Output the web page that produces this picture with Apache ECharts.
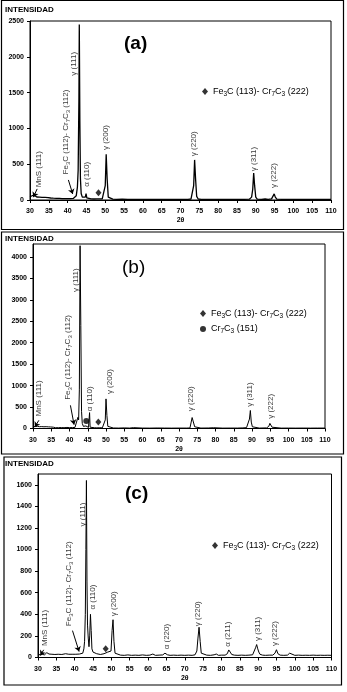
<!DOCTYPE html>
<html>
<head>
<meta charset="utf-8">
<script src="https://cdn.jsdelivr.net/npm/echarts@6/dist/echarts.min.js"></script>
<style>
html, body { margin: 0; padding: 0; background: #fff; }
#chart { width: 347px; height: 692px; }
</style>
</head>
<body>
<div id="chart"></div>
<script>
// XRD patterns (2θ, intensity)
var FE3C = 'Fe3C (113)- Cr7C3 (222)';
var CR7C3 = 'Cr7C3 (151)';

var dataA = [[30.0,45],[30.5,42],[31.0,70],[31.3,48],[31.8,42],[32.5,40],[33.2,38],[34.0,36],[34.8,34],[35.5,28],[36.2,25],[37.0,24],[37.8,22],[38.5,20],[39.3,20],[40.0,18],[40.8,20],[41.5,22],[42.0,30],[42.3,60],[42.6,180],[42.8,420],[43.0,1400],[43.1,2450],[43.25,1100],[43.4,300],[43.6,90],[43.9,40],[44.3,25],[44.7,40],[44.9,90],[45.1,30],[45.5,18],[46.2,15],[47.0,14],[47.8,15],[48.5,16],[49.2,15],[49.7,30],[50.0,200],[50.25,640],[50.5,300],[50.8,40],[51.2,15],[52,12],[53,10],[54.5,12],[56,10],[58,10],[60,9],[62,10],[64,9],[66,10],[68,9],[70,10],[72,10],[72.8,14],[73.2,40],[73.5,200],[73.75,560],[74.0,300],[74.3,50],[74.7,14],[75.5,10],[77,9],[79,10],[81,9],[83,10],[85,9],[87,10],[88.3,12],[88.9,40],[89.2,150],[89.45,375],[89.7,200],[90.0,40],[90.4,12],[91.5,10],[92.5,14],[93.3,10],[94.2,15],[94.6,40],[94.9,85],[95.2,40],[95.6,12],[97,9],[99,10],[101,9],[103,10],[105,9],[107,10],[109,9],[110,10]];
var labelsA = [[32.5,170,'MnS (111)'],[39.75,350,'Fe3C (112)- Cr7C3 (112)'],[41.8,1730,'γ (111)'],[45.2,177,'α (110)'],[50.3,690,'γ (200)'],[73.7,605,'γ (220)'],[89.5,395,'γ (311)'],[95.0,160,'γ (222)']];
var arrowsA = [[[31.9,155],[30.9,40]],[[40.2,280],[41.35,84]]];
var fe3cA = [[48.2,102]];

var dataB = [[30.0,40],[30.3,25],[30.6,45],[30.9,30],[31.2,50],[31.5,28],[31.8,42],[32.1,26],[32.4,44],[32.7,30],[33.0,40],[33.3,25],[33.6,42],[33.9,28],[34.2,38],[34.5,25],[34.8,36],[35.2,24],[35.6,30],[36.2,18],[37,20],[37.8,22],[38.5,18],[39.3,25],[40,20],[40.8,22],[41.5,25],[42.0,40],[42.3,260],[42.5,200],[42.7,900],[42.9,4260],[43.1,2400],[43.3,400],[43.5,120],[43.8,50],[44.2,40],[44.5,60],[44.8,40],[45.2,25],[45.5,370],[45.65,30],[46,20],[46.8,18],[47.5,15],[48.3,18],[49.0,15],[49.5,30],[49.8,200],[50.0,690],[50.25,300],[50.5,50],[51,15],[52,12],[53.5,10],[55,14],[56.5,10],[57.5,20],[58,10],[60,10],[62,9],[64,12],[66,10],[68,9],[70,10],[72,10],[73.0,12],[73.4,40],[73.6,255],[74.1,260],[74.3,40],[74.8,12],[76,10],[78,12],[79.5,18],[80,10],[82,9],[84,10],[86,10],[87.5,14],[88.5,20],[89.0,60],[89.3,220],[89.55,420],[89.8,150],[90.1,40],[90.5,12],[92,10],[94.0,14],[94.6,50],[94.9,120],[95.2,110],[95.5,30],[96,10],[98,9],[100,10],[102,9],[104,10],[106,9],[108,10],[110,10]];
var labelsB = [[31.65,268,'MnS (111)'],[39.6,657,'Fe3C (112)- Cr7C3 (112)'],[41.8,3170,'γ (111)'],[45.7,390,'α (110)'],[51.2,790,'γ (200)'],[73.45,390,'γ (220)'],[89.4,495,'γ (311)'],[95.2,215,'γ (222)']];
var arrowsB = [[[31.6,190],[30.5,35]],[[40.25,540],[41.25,90]]];
var fe3cB = [[47.9,152]];
var cr7c3B = [[44.6,175]];

var dataC = [[30.0,30],[30.3,45],[30.6,25],[30.9,35],[31.2,28],[31.5,40],[31.8,25],[32.1,30],[32.4,45],[32.7,28],[33.0,32],[33.4,25],[33.8,30],[34.2,22],[34.6,28],[35.0,24],[35.5,30],[36.0,25],[36.5,28],[37.0,24],[37.5,35],[38.0,48],[38.4,30],[38.8,26],[39.3,30],[39.8,24],[40.3,30],[40.8,26],[41.3,32],[41.8,30],[42.2,40],[42.5,80],[42.7,150],[42.9,400],[43.05,1000],[43.2,1640],[43.35,700],[43.5,300],[43.7,180],[43.9,100],[44.1,200],[44.3,400],[44.5,250],[44.7,80],[45.0,50],[45.5,40],[46.0,35],[46.5,30],[47.0,28],[47.5,30],[48.0,35],[48.5,45],[49.0,50],[49.5,45],[49.9,60],[50.2,250],[50.45,350],[50.7,150],[51.0,40],[51.5,25],[52.5,22],[53.5,20],[54.5,24],[55.5,20],[56.5,22],[57.5,20],[58.5,24],[59.5,20],[60.5,22],[61.3,32],[62,20],[63,22],[64.0,24],[64.6,40],[64.9,46],[65.3,25],[66,20],[67,22],[68,20],[69,22],[70,20],[71,22],[72,20],[72.8,25],[73.3,60],[73.6,180],[73.9,280],[74.2,150],[74.5,40],[75,24],[76,22],[77,20],[78,25],[78.6,32],[79.2,20],[80,22],[81,22],[81.6,35],[82.0,70],[82.4,50],[82.8,28],[83.5,22],[84.5,20],[85.5,22],[86.5,20],[87.5,22],[88.5,25],[89.0,40],[89.3,90],[89.6,120],[89.9,80],[90.2,50],[90.5,30],[91.2,22],[92,20],[93,22],[94.0,22],[94.6,40],[95.0,72],[95.4,35],[96,22],[97,20],[98,22],[98.6,40],[99,22],[100,20],[101,22],[102,20],[103,21],[104,20],[105,22],[106,20],[107,21],[108,20],[109,21],[110,20]];
var labelsC = [[32.1,101,'MnS (111)'],[38.65,286,'Fe3C (112)- Cr7C3 (112)'],[42.4,1210,'γ (111)'],[45.2,440,'α (110)'],[50.7,378,'γ (200)'],[65.3,71,'α (220)'],[73.6,286,'γ (220)'],[81.8,96,'α (211)'],[90.0,148,'γ (311)'],[94.8,101,'γ (222)']];
var arrowsC = [[[31.55,71],[30.65,19]],[[39.4,249],[41.2,55]]];
var fe3cC = [[48.45,80]];

var FONT = '"Liberation Sans", Arial, sans-serif';

// chemical formulas: digits right after a letter become subscripts
function sub(t) {
    return t.replace(/([A-Za-z])(\d)/g, '$1{s|$2}');
}

var panels = [
    {tag: '(a)', tagBold: 'bold', data: dataA, labels: labelsA, arrows: arrowsA, fe3c: fe3cA, cr: null,
     ymax: 2500, yint: 500, lineW: 1.3,
     grid: {left: 30, top: 21, width: 301, height: 179},
     frame: [1.5, 0.5, 342, 229], titleTop: 6, tagPos: [124, 34],
     legend: {left: 202, top: 87}},
    {tag: '(b)', tagBold: 'normal', data: dataB, labels: labelsB, arrows: arrowsB, fe3c: fe3cB, cr: cr7c3B,
     ymax: 4300, yint: 500, lineW: 1,
     grid: {left: 33, top: 244, width: 292, height: 184.5},
     frame: [1.5, 232, 342, 222], titleTop: 235, tagPos: [122, 258],
     legend: {left: 200, top: 309}},
    {tag: '(c)', tagBold: 'bold', data: dataC, labels: labelsC, arrows: arrowsC, fe3c: fe3cC, cr: null,
     ymax: 1700, yint: 200, lineW: 1,
     grid: {left: 38, top: 474, width: 293.5, height: 183.5},
     frame: [4, 457, 337.5, 228], titleTop: 460, tagPos: [125, 484],
     legend: {left: 212, top: 541}}
];

var chart = echarts.init(document.getElementById('chart'));

var grids = [], xAxes = [], yAxes = [], series = [], titles = [], legends = [], frames = [];

var subStyle = {fontSize: 6, color: '#000', fontFamily: FONT, padding: [5, 0, 0, 0]};

panels.forEach(function (p, i) {
    grids.push({left: p.grid.left, top: p.grid.top, width: p.grid.width, height: p.grid.height,
        show: true, borderColor: '#000', borderWidth: 1, backgroundColor: 'transparent'});

    xAxes.push({
        gridIndex: i, type: 'value', min: 30, max: 110, interval: 5,
        name: '2θ', nameLocation: 'middle', nameGap: 17,
        nameTextStyle: {fontSize: 7, fontWeight: 'bold', color: '#000', fontFamily: FONT},
        axisLine: {lineStyle: {color: '#000', width: 1}},
        axisTick: {length: 3, lineStyle: {color: '#000'}},
        axisLabel: {fontSize: 7, fontWeight: 'bold', color: '#000', margin: 8, fontFamily: FONT,
            formatter: function (v) { return String(v); }},
        splitLine: {show: false}
    });
    yAxes.push({
        gridIndex: i, type: 'value', min: 0, max: p.ymax, interval: p.yint,
        axisLine: {show: true, lineStyle: {color: '#000', width: 1}},
        axisTick: {show: true, length: 3, lineStyle: {color: '#000'}},
        axisLabel: {fontSize: 7, fontWeight: 'bold', color: '#000', margin: 6, fontFamily: FONT,
            showMaxLabel: p.ymax % p.yint === 0,
            formatter: function (v) { return String(v); }},
        splitLine: {show: false}
    });

    series.push({
        type: 'line', xAxisIndex: i, yAxisIndex: i, data: p.data,
        showSymbol: false, symbol: 'none',
        lineStyle: {color: '#000', width: p.lineW}, itemStyle: {color: '#000'},
        markLine: {
            silent: true, symbol: ['none', 'arrow'], symbolSize: 5,
            lineStyle: {color: '#000', width: 1, type: 'solid'},
            label: {show: false},
            data: p.arrows.map(function (a) {
                return [{coord: a[0]}, {coord: a[1]}];
            })
        }
    });

    series.push({
        type: 'scatter', name: FE3C, xAxisIndex: i, yAxisIndex: i,
        symbol: 'diamond', symbolSize: [6, 7], itemStyle: {color: '#000'},
        data: p.fe3c
    });
    if (p.cr) {
        series.push({
            type: 'scatter', name: CR7C3, xAxisIndex: i, yAxisIndex: i,
            symbol: 'circle', symbolSize: 6, itemStyle: {color: '#000'},
            data: p.cr
        });
    }

    // peak annotations, rotated, starting at the given point
    series.push({
        type: 'scatter', xAxisIndex: i, yAxisIndex: i, silent: true,
        symbolSize: 1, itemStyle: {color: 'rgba(0,0,0,0)'},
        data: p.labels.map(function (l) {
            return {value: [l[0], l[1]], name: l[2]};
        }),
        label: {
            show: true, rotate: 90, position: [0, 0], align: 'left', verticalAlign: 'middle',
            fontSize: 8, color: '#000', fontFamily: FONT,
            formatter: function (prm) { return sub(prm.name); },
            rich: {s: subStyle}
        }
    });

    titles.push({text: 'INTENSIDAD', left: 5, top: p.titleTop, padding: 0,
        textStyle: {fontSize: 8, fontWeight: 'bold', color: '#000', fontFamily: FONT}});
    titles.push({text: p.tag, left: p.tagPos[0], top: p.tagPos[1], padding: 0,
        textStyle: {fontSize: 19, fontWeight: p.tagBold, color: '#000', fontFamily: FONT}});

    var items = [{name: FE3C, icon: 'diamond'}];
    if (p.cr) items.push({name: CR7C3, icon: 'circle'});
    legends.push({
        data: items, left: p.legend.left, top: p.legend.top, orient: 'vertical',
        padding: 0, itemGap: 5, itemWidth: 6, itemHeight: 7, selectedMode: false,
        formatter: sub,
        textStyle: {fontSize: 9, color: '#000', fontFamily: FONT,
            rich: {s: {fontSize: 6.5, color: '#000', fontFamily: FONT, padding: [5, 0, 0, 0]}}}
    });

    frames.push({
        type: 'rect', silent: true, z: 100,
        shape: {x: p.frame[0], y: p.frame[1], width: p.frame[2], height: p.frame[3]},
        style: {fill: 'none', stroke: '#000', lineWidth: 1.2}
    });
});

chart.setOption({
    animation: false,
    backgroundColor: '#fff',
    title: titles,
    legend: legends,
    grid: grids,
    xAxis: xAxes,
    yAxis: yAxes,
    series: series,
    graphic: frames
});
</script>
</body>
</html>
